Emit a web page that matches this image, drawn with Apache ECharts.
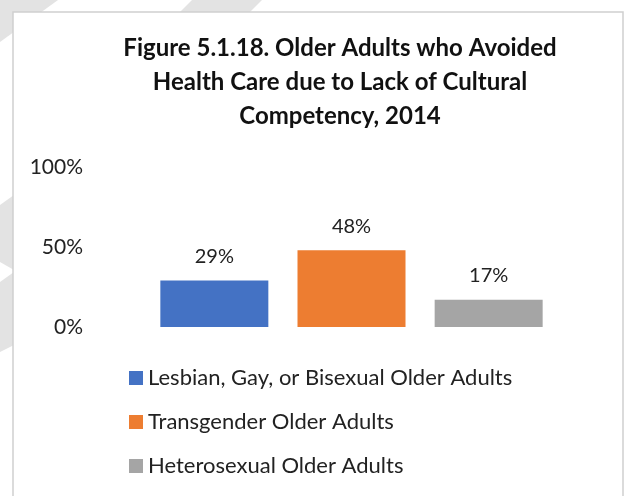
<!DOCTYPE html>
<html><head><meta charset="utf-8">
<script src="https://cdn.jsdelivr.net/npm/echarts@6/dist/echarts.min.js"></script>
<style>html,body{margin:0;padding:0;background:#fff}#c{width:630px;height:496px}</style>
</head><body><div id="c"></div>
<script>
const categories = ['2014'];
const seriesNames = ['Lesbian, Gay, or Bisexual Older Adults', 'Transgender Older Adults', 'Heterosexual Older Adults'];
const lgbValues = [0.29];
const transValues = [0.48];
const heteroValues = [0.17];
const yTicks = [0, 0.5, 1];
const colors = ['#4472C4', '#ED7D31', '#A5A5A5'];

const FONT = 'Lato';
const chart = echarts.init(document.getElementById('c'));
const wm = '#e3e3e3';
const mk = (name, data, color) => ({
  name, type: 'bar', data, barWidth: 108, barGap: '27%',
  itemStyle: { color },
  label: { show: true, position: 'top', distance: 14, formatter: p => Math.round(p.value * 100) + '%',
    fontFamily: FONT, fontSize: 20, color: '#222' }
});
chart.setOption({
  animation: false,
  backgroundColor: '#fff',
  graphic: [
    { type: 'polygon', z: -10, shape: { points: [[0,0],[58,0],[0,42]] }, style: { fill: wm } },
    { type: 'polygon', z: -10, shape: { points: [[192,0],[262,0],[248,14],[178,14]] }, style: { fill: wm } },
    { type: 'polygon', z: -10, shape: { points: [[0,205],[14,195],[14,270],[0,262]] }, style: { fill: wm } },
    { type: 'polygon', z: -10, shape: { points: [[0,282],[14,272],[14,345],[0,352]] }, style: { fill: wm } },
    { type: 'rect', z: -5, shape: { x: 13, y: 12, width: 610, height: 500 }, style: { fill: '#fff', stroke: '#d0d0d0', lineWidth: 1.5 } }
  ],
  title: {
    text: 'Figure 5.1.18. Older Adults who Avoided\nHealth Care due to Lack of Cultural\nCompetency, 2014',
    left: 335, top: 26, textAlign: 'center',
    textStyle: { fontFamily: FONT, fontSize: 24, fontWeight: 'bold', color: '#111', lineHeight: 34 }
  },
  legend: {
    orient: 'vertical', left: 124, top: 362, itemGap: 22, itemWidth: 14, itemHeight: 14,
    icon: 'rect', data: seriesNames,
    textStyle: { fontFamily: FONT, fontSize: 22, color: '#222' }
  },
  grid: { left: 145, right: 72, top: 167, bottom: 169 },
  xAxis: { type: 'category', data: categories, axisLine: { show: false }, axisTick: { show: false }, axisLabel: { show: false } },
  yAxis: {
    type: 'value', min: yTicks[0], max: yTicks[yTicks.length - 1], interval: yTicks[1] - yTicks[0],
    splitLine: { show: false }, axisLine: { show: false }, axisTick: { show: false },
    axisLabel: { margin: 62, formatter: v => Math.round(v * 100) + '%', fontFamily: FONT, fontSize: 21, color: '#222' }
  },
  series: [
    mk(seriesNames[0], lgbValues, colors[0]),
    mk(seriesNames[1], transValues, colors[1]),
    mk(seriesNames[2], heteroValues, colors[2])
  ]
});
</script></body></html>
